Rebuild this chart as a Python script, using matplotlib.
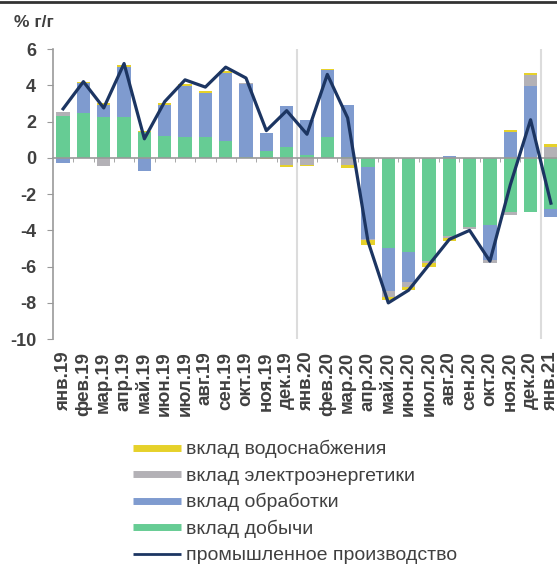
import matplotlib.pyplot as plt
import numpy as np
from matplotlib.lines import Line2D

plt.rcParams['font.family'] = ['Liberation Sans', 'DejaVu Sans']
plt.rcParams['axes.unicode_minus'] = False

months = ['янв.19', 'фев.19', 'мар.19', 'апр.19', 'май.19', 'июн.19', 'июл.19',
          'авг.19', 'сен.19', 'окт.19', 'ноя.19', 'дек.19', 'янв.20', 'фев.20',
          'мар.20', 'апр.20', 'май.20', 'июн.20', 'июл.20', 'авг.20', 'сен.20',
          'окт.20', 'ноя.20', 'дек.20', 'янв.21']

# вклады, п.п.
mining = [2.3, 2.45, 2.25, 2.25, 1.4, 1.2, 1.15, 1.15, 0.95, 0.05, 0.4, 0.6, 0.15,
          1.15, 0.05, -0.5, -5.0, -5.2, -5.7, -4.3, -3.8, -3.7, -3.0, -3.0, -2.8]
manuf = [-0.3, 1.7, 0.65, 2.75, -0.7, 1.7, 2.8, 2.4, 3.7, 4.0, 0.95, 2.25, 1.95,
         3.7, 2.85, -3.95, -2.35, -1.65, 0.0, 0.1, 0.0, -1.95, 1.45, 3.95, -0.45]
power = [0.2, 0.0, -0.45, 0.0, 0.0, 0.0, 0.0, 0.0, 0.05, 0.05, 0.0, -0.4, -0.4,
         0.0, -0.4, -0.1, -0.35, -0.3, -0.1, -0.1, -0.15, -0.15, -0.15, 0.6, 0.6]
water = [0.05, 0.05, 0.1, 0.1, 0.1, 0.1, 0.1, 0.12, 0.08, 0.05, -0.05, -0.1, -0.05,
         0.05, -0.15, -0.25, -0.15, -0.15, -0.2, -0.2, 0.0, 0.0, 0.1, 0.12, 0.18]
# промышленное производство, % г/г
total = [2.7, 4.2, 2.75, 5.2, 1.05, 3.1, 4.3, 3.9, 5.0, 4.4, 1.5, 2.6, 1.3, 4.6,
         2.2, -4.6, -8.0, -7.3, -5.9, -4.5, -4.0, -5.7, -1.5, 2.1, -2.5]

c_green = '#66cc94'
c_blue = '#7f9bcf'
c_gray = '#b3b1b6'
c_yellow = '#e6d12a'
c_line = '#1c3562'
c_text = '#404040'

fig = plt.figure(figsize=(5.57, 5.70), dpi=100)
ax = fig.add_axes([0.095, 0.405, 0.905, 0.509])

x = np.arange(len(months))
pos_bottom = np.zeros(len(months))
neg_bottom = np.zeros(len(months))
for vals, col in [(mining, c_green), (manuf, c_blue), (power, c_gray), (water, c_yellow)]:
    v = np.array(vals)
    b = np.where(v >= 0, pos_bottom, neg_bottom)
    ax.bar(x, v, 0.65, bottom=b, color=col, zorder=2)
    pos_bottom += np.where(v >= 0, v, 0)
    neg_bottom += np.where(v < 0, v, 0)

ax.plot(x, total, color=c_line, lw=2.3, zorder=4)

# разделители лет
ax.axvline(11.5, color='#dcdcdc', lw=1.5, zorder=1)
ax.axvline(23.5, color='#dcdcdc', lw=1.5, zorder=1)

ax.set_xlim(-0.5, 24.3)
ax.set_ylim(-10, 6)
ax.set_yticks(range(-10, 7, 2))
ax.tick_params(axis='y', length=4, color='#999999', labelsize=13,
               labelcolor=c_text, pad=8)
for t in ax.get_yticklabels():
    t.set_fontweight('bold')

for s in ['top', 'right']:
    ax.spines[s].set_visible(False)
ax.spines['left'].set_color('#999999')
ax.spines['left'].set_linewidth(1.2)
ax.spines['bottom'].set_position(('data', 0))
ax.spines['bottom'].set_color('#999999')
ax.spines['bottom'].set_linewidth(1.2)
ax.spines['bottom'].set_zorder(3)
ax.set_xticks(x)
ax.set_xticks(x[:-1] + 0.5, minor=True)
ax.tick_params(axis='x', which='major', length=0, labelbottom=False)
ax.tick_params(axis='x', which='minor', length=3, color='#999999', direction='out')

sec = ax.secondary_xaxis(0)
sec.set_xticks(x)
sec.set_xticklabels(months, rotation=90, fontsize=13.5, fontweight='bold', color=c_text)
sec.tick_params(length=0, pad=9)
sec.spines['bottom'].set_visible(False)

fig.text(0.025, 0.961, '% г/г', fontsize=12.5, fontweight='bold', color=c_text,
         va='center', ha='left')

# рамка сверху
fig.add_artist(Line2D([0, 1], [0.997, 0.997], color='#333333', lw=2))

handles = [Line2D([], [], color=c_yellow, lw=5, solid_capstyle='butt'),
           Line2D([], [], color=c_gray, lw=5, solid_capstyle='butt'),
           Line2D([], [], color=c_blue, lw=5, solid_capstyle='butt'),
           Line2D([], [], color=c_green, lw=5, solid_capstyle='butt'),
           Line2D([], [], color=c_line, lw=2, solid_capstyle='butt')]
labels = ['вклад водоснабжения', 'вклад электроэнергетики', 'вклад обработки',
          'вклад добычи', 'промышленное производство']
leg = fig.legend(handles, labels, loc='upper left', bbox_to_anchor=(0.239, 0.228),
                 frameon=False, fontsize=14, handlelength=2.45, handletextpad=0.25,
                 labelspacing=0.44, borderpad=0, borderaxespad=0)
for t in leg.get_texts():
    t.set_color(c_text)

fig.savefig('out.png', dpi=100)
